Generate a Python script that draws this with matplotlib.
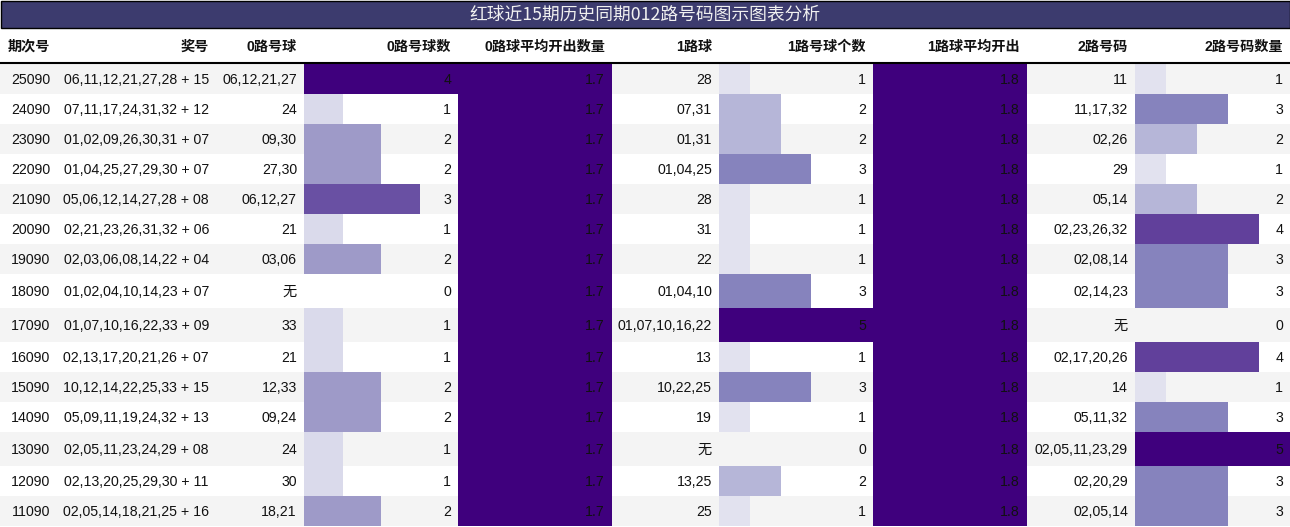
import matplotlib
matplotlib.use("Agg")
import matplotlib.pyplot as plt
from matplotlib import colormaps

plt.rcParams['font.family'] = ['Liberation Sans', 'Noto Sans CJK SC', 'DejaVu Sans']

# data
title = "红球近15期历史同期012路号码图示图表分析"
headers = ["期次号", "奖号", "0路号球", "0路号球数", "0路球平均开出数量",
           "1路球", "1路号球个数", "1路球平均开出", "2路号码", "2路号码数量"]

periods = ["25090", "24090", "23090", "22090", "21090", "20090", "19090", "18090",
           "17090", "16090", "15090", "14090", "13090", "12090", "11090"]
draws = ["06,11,12,21,27,28 + 15", "07,11,17,24,31,32 + 12", "01,02,09,26,30,31 + 07",
         "01,04,25,27,29,30 + 07", "05,06,12,14,27,28 + 08", "02,21,23,26,31,32 + 06",
         "02,03,06,08,14,22 + 04", "01,02,04,10,14,23 + 07", "01,07,10,16,22,33 + 09",
         "02,13,17,20,21,26 + 07", "10,12,14,22,25,33 + 15", "05,09,11,19,24,32 + 13",
         "02,05,11,23,24,29 + 08", "02,13,20,25,29,30 + 11", "02,05,14,18,21,25 + 16"]
road0_nums = ["06,12,21,27", "24", "09,30", "27,30", "06,12,27", "21", "03,06", "无",
              "33", "21", "12,33", "09,24", "24", "30", "18,21"]
road0_cnt = [4, 1, 2, 2, 3, 1, 2, 0, 1, 1, 2, 2, 1, 1, 2]
road0_avg = [1.7, 1.7, 1.7, 1.7, 1.7, 1.7, 1.7, 1.7, 1.7, 1.7, 1.7, 1.7, 1.7, 1.7, 1.7]
road1_nums = ["28", "07,31", "01,31", "01,04,25", "28", "31", "22", "01,04,10",
              "01,07,10,16,22", "13", "10,22,25", "19", "无", "13,25", "25"]
road1_cnt = [1, 2, 2, 3, 1, 1, 1, 3, 5, 1, 3, 1, 0, 2, 1]
road1_avg = [1.8, 1.8, 1.8, 1.8, 1.8, 1.8, 1.8, 1.8, 1.8, 1.8, 1.8, 1.8, 1.8, 1.8, 1.8]
road2_nums = ["11", "11,17,32", "02,26", "29", "05,14", "02,23,26,32", "02,08,14",
              "02,14,23", "无", "02,17,20,26", "14", "05,11,32", "02,05,11,23,29",
              "02,20,29", "02,05,14"]
road2_cnt = [1, 3, 2, 1, 2, 4, 3, 3, 0, 4, 1, 3, 5, 3, 3]

# layout
W, H = 1290, 527
col_edges = [0, 57, 216, 304, 458, 612, 719, 873, 1027, 1135, 1290]
title_h = 27
head_bottom = 63
pad = 7
fs = 10.2
dy = 1.5  # text sits a bit below the row centre

text_cols = [periods, draws, road0_nums, None, None, road1_nums, None, None, road2_nums, None]
bar_cols = {3: road0_cnt, 4: road0_avg, 6: road1_cnt, 7: road1_avg, 9: road2_cnt}

# taller rows where a CJK glyph appears
row_h = []
for i in range(len(periods)):
    has_cjk = "无" in (road0_nums[i], road1_nums[i], road2_nums[i])
    row_h.append(34 if has_cjk else 30)
row_top = []
y = head_bottom + 0.5
for h in row_h:
    row_top.append(y)
    y += h
row_mid = [t + h / 2 for t, h in zip(row_top, row_h)]

fig = plt.figure(figsize=(W / 100, H / 100), dpi=100)
ax = fig.add_axes([0, 0, 1, 1])
ax.set_xlim(0, W)
ax.set_ylim(H, 0)
ax.axis('off')

# striped row backgrounds
for i, (t, h) in enumerate(zip(row_top, row_h)):
    if i % 2 == 0:
        ax.add_patch(plt.Rectangle((0, t), W, h, color='#f4f4f4', lw=0, zorder=0))

cmap = colormaps['Purples']

for c, vals in bar_cols.items():
    left = col_edges[c]
    cw = col_edges[c + 1] - left
    vmax = max(vals)
    widths = [v / vmax * cw for v in vals]
    colors = [cmap(v / vmax) if v > 0 else (0, 0, 0, 0) for v in vals]
    ax.barh(row_mid, widths, height=row_h, left=left, color=colors, lw=0, zorder=1)
    for ym, v in zip(row_mid, vals):
        ax.text(col_edges[c + 1] - pad, ym + dy, str(v), ha='right', va='center',
                fontsize=fs, color='#111111', zorder=3)

for c, vals in enumerate(text_cols):
    if vals is None:
        continue
    for ym, s in zip(row_mid, vals):
        ax.text(col_edges[c + 1] - pad, ym + dy, s, ha='right', va='center',
                fontsize=fs, color='#111111', zorder=3)

# header
for c, hd in enumerate(headers):
    ax.text(col_edges[c + 1] - pad, 46.5, hd, ha='right', va='center',
            fontsize=fs, fontweight='bold', color='#111111')
ax.plot([0, W], [head_bottom, head_bottom], color='black', lw=1.5, zorder=4)

# title bar
ax.add_patch(plt.Rectangle((0.5, 0.5), W - 1, title_h, facecolor='#3c3b6e',
                           edgecolor='black', lw=1, zorder=4))
ax.text(W / 2, title_h / 2 + 1.5, title, ha='center', va='center', fontsize=12.8,
        color='#f0f0f0', family=['Noto Sans CJK SC', 'DejaVu Sans'], zorder=5)

fig.savefig('out.png', dpi=100)
